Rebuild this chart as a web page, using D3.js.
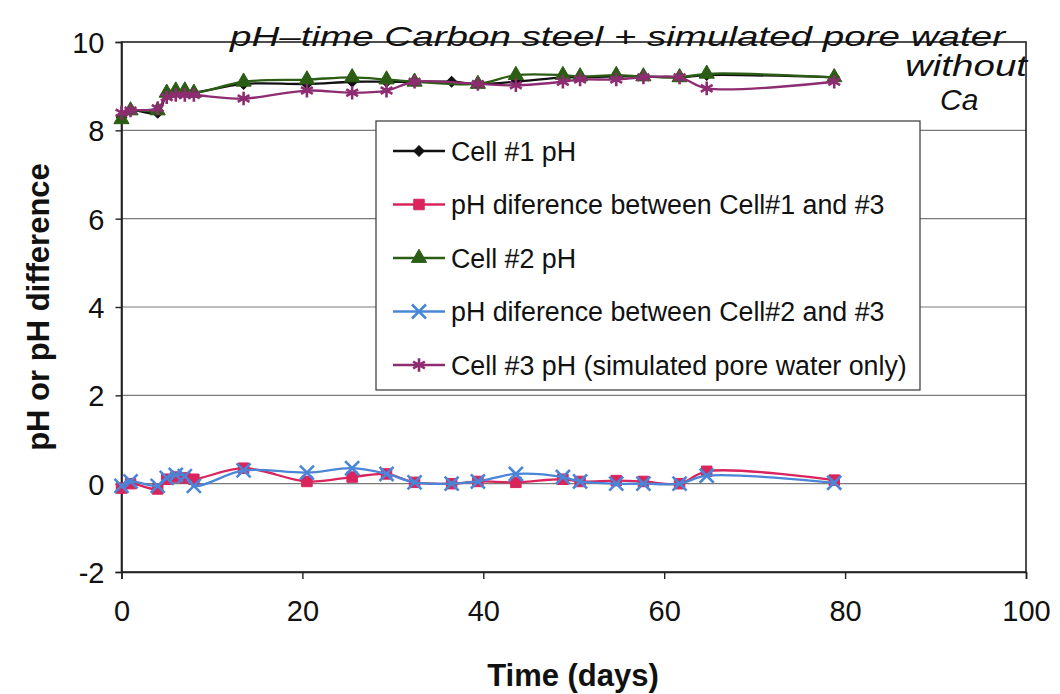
<!DOCTYPE html>
<html>
<head>
<meta charset="utf-8">
<script src="https://cdn.jsdelivr.net/npm/d3@7"></script>
<style>
  html, body { margin: 0; padding: 0; background: #fff; }
  svg { display: block; }
  text { font-family: "Liberation Sans", Arial, sans-serif; }
</style>
</head>
<body>
<svg id="chart" width="1060" height="694"></svg>
<script>
// ---- Data ----
const days      = [0, 1, 4, 5, 6, 7, 8, 13.5, 20.5, 25.5, 29.3, 32.4, 36.5, 39.4, 43.6, 48.8, 50.7, 54.7, 57.7, 61.7, 64.7, 78.8];
const cell1pH   = [8.30, 8.45, 8.40, 8.80, 8.85, 8.85, 8.85, 9.05, 9.05, 9.10, 9.10, 9.10, 9.10, 9.05, 9.10, 9.20, 9.20, 9.22, 9.22, 9.20, 9.25, 9.20];
const diff13    = [-0.10, 0.00, -0.12, 0.10, 0.15, 0.13, 0.10, 0.35, 0.05, 0.15, 0.22, 0.03, 0.00, 0.05, 0.03, 0.10, 0.05, 0.07, 0.05, 0.00, 0.28, 0.08];
const cell2pH   = [8.25, 8.45, 8.45, 8.85, 8.90, 8.90, 8.85, 9.10, 9.15, 9.20, 9.15, 9.10, null, 9.05, 9.25, 9.25, 9.22, 9.25, 9.22, 9.20, 9.28, 9.20];
const diff23    = [-0.05, 0.05, -0.05, 0.13, 0.20, 0.17, -0.05, 0.30, 0.25, 0.35, 0.22, 0.03, 0.00, 0.05, 0.22, 0.15, 0.05, 0.00, 0.00, 0.00, 0.18, 0.02];
const cell3pH   = [8.40, 8.45, 8.50, 8.75, 8.80, 8.80, 8.80, 8.72, 8.90, 8.85, 8.90, 9.10, null, 9.05, 9.02, 9.10, 9.15, 9.15, 9.20, 9.20, 8.95, 9.10];

const seriesNames = [
  "Cell #1 pH",
  "pH diference between Cell#1 and #3",
  "Cell #2 pH",
  "pH diference between Cell#2 and #3",
  "Cell #3 pH (simulated pore water only)"
];
const xTicks = [0, 20, 40, 60, 80, 100];
const yTicks = [-2, 0, 2, 4, 6, 8, 10];
const xTitle = "Time (days)";
const yTitle = "pH or pH difference";
const noteLine1 = "pH–time   Carbon steel + simulated pore water";
const noteLine2 = "without";
const noteLine3 = "Ca";

// ---- Layout ----
const svg = d3.select("#chart");
const pLeft = 121.5, pRight = 1026, pTop = 42, pBottom = 572;

const x = d3.scaleLinear().domain([0, 100]).range([pLeft, pRight]);
const y = d3.scaleLinear().domain([-2, 10]).range([pBottom, pTop]);

// gridlines
svg.append("g")
  .selectAll("line")
  .data(yTicks.filter(v => v > -2 && v < 10))
  .join("line")
  .attr("x1", pLeft).attr("x2", pRight)
  .attr("y1", d => y(d)).attr("y2", d => y(d))
  .attr("stroke", "#7a7a7a").attr("stroke-width", 1.2);

// plot border
svg.append("rect")
  .attr("x", pLeft).attr("y", pTop)
  .attr("width", pRight - pLeft).attr("height", pBottom - pTop)
  .attr("fill", "none").attr("stroke", "#222").attr("stroke-width", 1.6);

// axes
const fmt = d => String(d);
const yAxis = svg.append("g")
  .attr("transform", `translate(${pLeft},0)`)
  .call(d3.axisLeft(y).tickValues(yTicks).tickSize(6).tickPadding(11).tickFormat(fmt));
const xAxis = svg.append("g")
  .attr("transform", `translate(0,${pBottom})`)
  .call(d3.axisBottom(x).tickValues(xTicks).tickSize(7).tickPadding(21).tickFormat(fmt));
[xAxis, yAxis].forEach(g => {
  g.select(".domain").attr("stroke", "#222").attr("stroke-width", 1.6);
  g.selectAll(".tick line").attr("stroke", "#222").attr("stroke-width", 1.4);
  g.selectAll(".tick text")
    .attr("fill", "#111")
    .style("font-family", "'Liberation Sans', Arial, sans-serif")
    .style("font-size", "29px");
});
yAxis.selectAll(".tick text").attr("dy", "0.36em");

// axis titles
svg.append("text")
  .attr("x", 573).attr("y", 686)
  .attr("text-anchor", "middle")
  .style("font-size", "31px").style("font-weight", "bold").attr("fill", "#111")
  .text(xTitle);
svg.append("text")
  .attr("transform", "translate(49,307) rotate(-90)")
  .attr("text-anchor", "middle")
  .style("font-size", "31px").style("font-weight", "bold").attr("fill", "#111")
  .text(yTitle);

// ---- Series ----
const series = [
  { name: seriesNames[0], values: cell1pH, color: "#111111", symbol: "diamond" },
  { name: seriesNames[1], values: diff13,  color: "#d9245c", symbol: "square" },
  { name: seriesNames[2], values: cell2pH, color: "#2b5e14", symbol: "triangle" },
  { name: seriesNames[3], values: diff23,  color: "#4a86d8", symbol: "x" },
  { name: seriesNames[4], values: cell3pH, color: "#8e2c72", symbol: "asterisk" }
];

function drawMarker(g, s, cx, cy) {
  const m = g.append("g").attr("transform", `translate(${cx},${cy})`);
  if (s.symbol === "diamond") {
    m.append("path").attr("d", d3.symbol(d3.symbolSquare, 56)()).attr("transform", "rotate(45)")
      .attr("fill", s.color).attr("stroke", s.color).attr("stroke-width", 1);
  } else if (s.symbol === "square") {
    m.append("path").attr("d", d3.symbol(d3.symbolSquare, 110)())
      .attr("fill", s.color).attr("stroke", s.color).attr("stroke-width", 1);
  } else if (s.symbol === "triangle") {
    m.append("path").attr("d", d3.symbol(d3.symbolTriangle, 100)())
      .attr("fill", s.color).attr("stroke", s.color).attr("stroke-width", 1);
  } else if (s.symbol === "x") {
    m.append("path").attr("d", d3.symbol(d3.symbolX, 130)())
      .attr("fill", "none").attr("stroke", s.color).attr("stroke-width", 2.6);
  } else if (s.symbol === "asterisk") {
    m.append("path").attr("d", d3.symbol(d3.symbolAsterisk, 130)())
      .attr("fill", "none").attr("stroke", s.color).attr("stroke-width", 2.6);
  }
}

const line = d3.line()
  .x(d => x(d[0])).y(d => y(d[1]))
  .curve(d3.curveCatmullRom.alpha(0.5));

series.forEach(s => {
  const pts = days.map((d, i) => [d, s.values[i]]).filter(p => p[1] != null);
  const g = svg.append("g");
  g.append("path").datum(pts)
    .attr("d", line)
    .attr("fill", "none").attr("stroke", s.color).attr("stroke-width", 2.3);
  pts.forEach(p => drawMarker(g, s, x(p[0]), y(p[1])));
});

// ---- Legend ----
const lg = svg.append("g");
lg.append("rect")
  .attr("x", 376).attr("y", 121).attr("width", 544).attr("height", 269)
  .attr("fill", "#fff").attr("stroke", "#444").attr("stroke-width", 1.3);
const legendY = d3.scalePoint().domain(seriesNames).range([151, 365]);
series.forEach(s => {
  const ly = legendY(s.name);
  lg.append("line").attr("x1", 393).attr("x2", 445).attr("y1", ly).attr("y2", ly)
    .attr("stroke", s.color).attr("stroke-width", 2.3);
  drawMarker(lg, s, 419, ly);
  lg.append("text").attr("x", 451).attr("y", ly).attr("dy", "0.36em")
    .style("font-size", "26.8px").attr("fill", "#111").text(s.name);
});

// ---- Handwritten note ----
const note = svg.append("g")
  .style("font-family", "'DejaVu Serif', serif").style("font-style", "italic")
  .attr("fill", "#111");
note.append("text").attr("x", 230).attr("y", 46).style("font-size", "28px")
  .attr("textLength", 775).attr("lengthAdjust", "spacingAndGlyphs").text(noteLine1);
note.append("text").attr("x", 905).attr("y", 76).style("font-size", "30px")
  .attr("textLength", 122).attr("lengthAdjust", "spacingAndGlyphs").text(noteLine2);
note.append("text").attr("x", 940).attr("y", 110).style("font-size", "30px").text(noteLine3);
</script>
</body>
</html>
